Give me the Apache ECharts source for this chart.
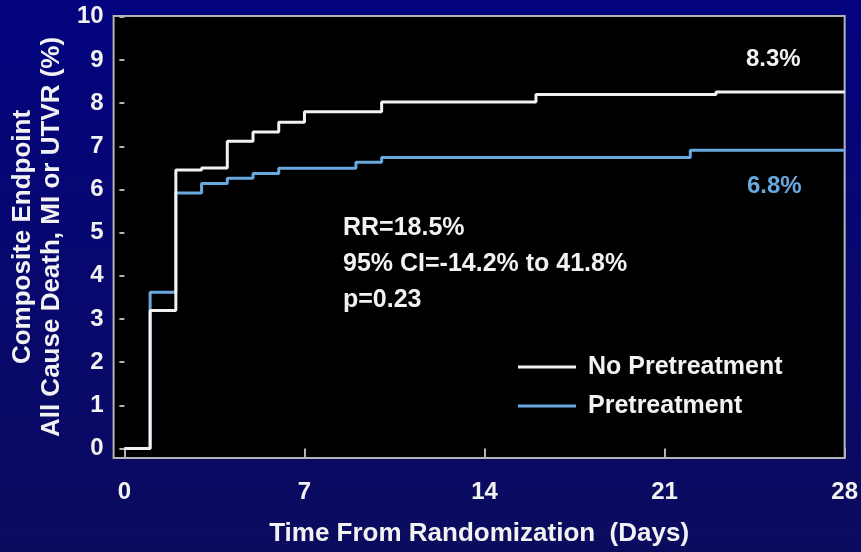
<!DOCTYPE html>
<html>
<head>
<meta charset="utf-8">
<script src="https://cdn.jsdelivr.net/npm/echarts@6/dist/echarts.min.js"></script>
<style>
html,body{margin:0;padding:0;width:861px;height:552px;overflow:hidden;}
#c{width:861px;height:552px;}
</style>
</head>
<body>
<div id="c"></div>
<script>
// ---- data ----
const seriesNames = ['No Pretreatment', 'Pretreatment'];
const noPreDays   = [0, 1, 2, 3, 4, 5, 6, 7, 10, 16, 23, 28];
const noPreValues = [0, 3.2, 6.45, 6.5, 7.12, 7.33, 7.56, 7.8, 8.03, 8.2, 8.26, 8.26];
const preDays     = [0, 1, 2, 3, 4, 5, 6, 9, 10, 22, 28];
const preValues   = [0, 3.62, 5.92, 6.14, 6.26, 6.37, 6.49, 6.63, 6.74, 6.91, 6.91];
const xTicks = [0, 7, 14, 21, 28];
const yTicks = [0, 1, 2, 3, 4, 5, 6, 7, 8, 9, 10];
const endLabels = ['8.3%', '6.8%'];
const statsText = ['RR=18.5%', '95% CI=-14.2% to 41.8%', 'p=0.23'];
const xTitle = 'Time From Randomization  (Days)';
const yTitle = ['Composite Endpoint', 'All Cause Death, MI or UTVR (%)'];

const FONT = '"Liberation Sans", Arial, sans-serif';
const WHITE = '#f2f2f2';
const BLUE = '#6aa9e0';

const chart = echarts.init(document.getElementById('c'));
const zip = (a, b) => a.map((v, i) => [v, b[i]]);

chart.setOption({
  backgroundColor: {
    type: 'linear', x: 0, y: 0, x2: 0, y2: 1,
    colorStops: [{offset: 0, color: '#03037f'}, {offset: 1, color: '#0b0b5e'}]
  },
  animation: false,
  grid: {
    left: 110, right: 16, top: 16, bottom: 91,
    show: true, backgroundColor: '#000000', borderColor: '#b4b4b4', borderWidth: 2
  },
  xAxis: {
    type: 'value', min: -0.42, max: 28,
    name: xTitle, nameLocation: 'middle', nameGap: 63,
    nameTextStyle: {color: WHITE, fontFamily: FONT, fontWeight: 'bold', fontSize: 26},
    axisLine: {show: false},
    splitLine: {show: false},
    axisTick: {show: true, customValues: xTicks, length: 9, lineStyle: {color: '#b4b4b4', width: 2}},
    axisLabel: {customValues: xTicks, color: WHITE, fontFamily: FONT, fontWeight: 'bold', fontSize: 24, margin: 22}
  },
  yAxis: {
    type: 'value', min: -0.22, max: 10.02,
    name: yTitle.join('\n'), nameLocation: 'middle', nameRotate: 90, nameGap: 38,
    nameTextStyle: {color: WHITE, fontFamily: FONT, fontWeight: 'bold', fontSize: 26, lineHeight: 29},
    axisLine: {show: false},
    splitLine: {show: false},
    axisTick: {show: true, customValues: yTicks, length: 5, lineStyle: {color: '#b4b4b4', width: 2}},
    axisLabel: {customValues: yTicks, color: WHITE, fontFamily: FONT, fontWeight: 'bold', fontSize: 24, margin: 10, padding: [8, 0, 0, 0]}
  },
  legend: {
    data: seriesNames,
    orient: 'vertical', left: 518, top: 354, padding: 0,
    icon: 'rect', itemWidth: 58, itemHeight: 3, itemGap: 13,
    textStyle: {color: WHITE, fontFamily: FONT, fontWeight: 'bold', fontSize: 25, lineHeight: 26, padding: [0, 0, 0, 7]}
  },
  series: [
    {
      name: seriesNames[0], type: 'line', step: 'end', showSymbol: false,
      data: zip(noPreDays, noPreValues),
      lineStyle: {color: WHITE, width: 3}, itemStyle: {color: WHITE}, z: 3
    },
    {
      name: seriesNames[1], type: 'line', step: 'end', showSymbol: false,
      data: zip(preDays, preValues),
      lineStyle: {color: BLUE, width: 3}, itemStyle: {color: BLUE}, z: 2
    }
  ],
  graphic: [
    {type: 'text', left: 746, top: 47, style: {text: endLabels[0], fill: WHITE, font: 'bold 24px ' + FONT}},
    {type: 'text', left: 747, top: 174, style: {text: endLabels[1], fill: BLUE, font: 'bold 24px ' + FONT}},
    {type: 'text', left: 343, top: 210, style: {text: statsText.join('\n'), fill: WHITE, font: 'bold 25px ' + FONT, lineHeight: 36}}
  ]
});
</script>
</body>
</html>
